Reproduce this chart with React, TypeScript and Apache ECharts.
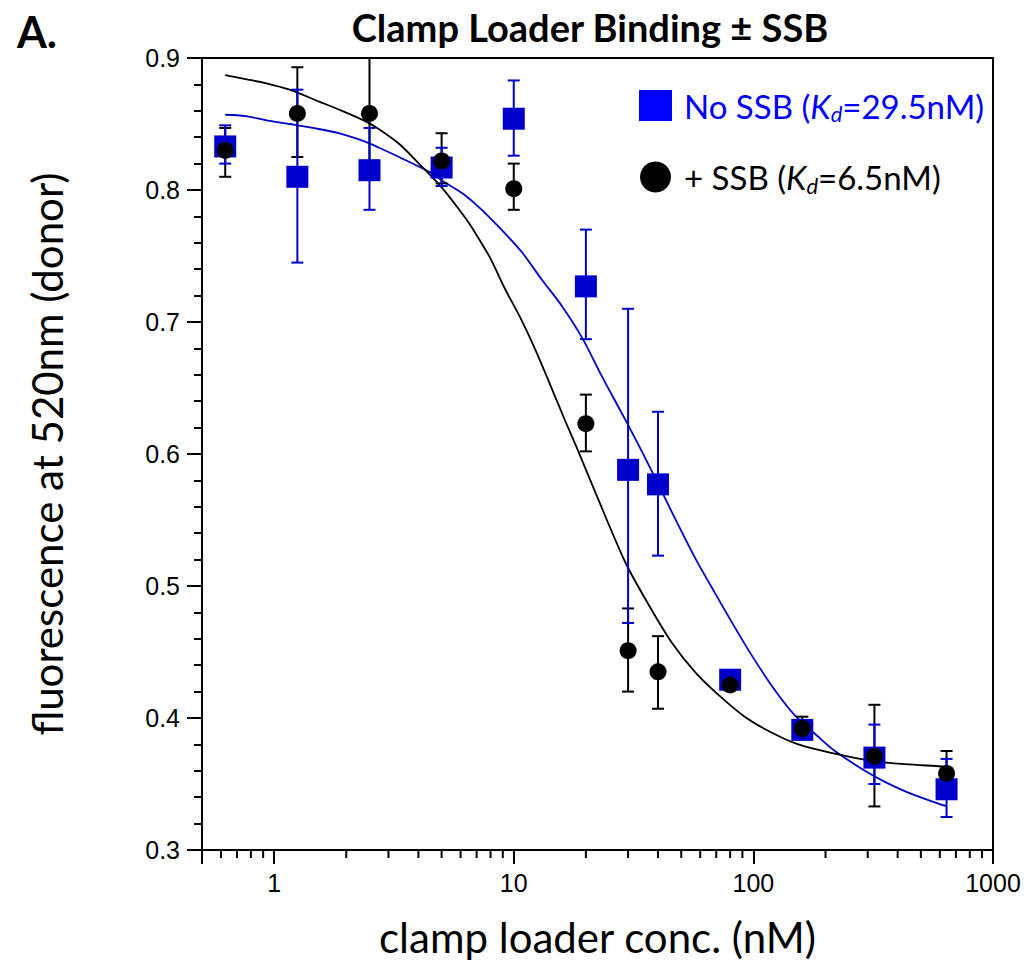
import React, { useEffect, useRef } from 'react';
import * as echarts from 'echarts';

// ---- data ----
const concentrations = [0.625, 1.25, 2.5, 5, 10, 20, 30, 40, 80, 160, 320, 640];

const noSsbValues = [0.833, 0.81, 0.815, 0.817, 0.854, 0.727, 0.588, 0.577, 0.429, 0.391, 0.37, 0.346];
const noSsbLow = [0.82, 0.745, 0.785, 0.803, 0.826, 0.687, 0.472, 0.523, 0.424, 0.386, 0.35, 0.325];
const noSsbHigh = [0.849, 0.876, 0.847, 0.832, 0.883, 0.77, 0.71, 0.632, 0.434, 0.396, 0.395, 0.369];

const ssbValues = [0.83, 0.858, 0.858, 0.822, 0.801, 0.623, 0.451, 0.435, 0.425, 0.392, 0.371, 0.358];
const ssbLow = [0.81, 0.825, 0.812, 0.805, 0.785, 0.602, 0.42, 0.407, 0.421, 0.385, 0.333, 0.341];
const ssbHigh = [0.847, 0.893, 0.905, 0.843, 0.82, 0.645, 0.483, 0.462, 0.429, 0.401, 0.41, 0.375];

const noSsbFitX = [0.625, 0.76, 0.92, 1.16, 1.45, 1.86, 2.41, 2.74, 3.32, 4.57, 5.03, 6.1, 7.15, 8.66, 10.8, 13.1, 15.9, 19.3, 23.3, 29.2, 36.5, 45.7, 58, 67, 81, 98, 123, 149, 186, 219, 292, 354, 443, 617, 640];
const noSsbFitY = [0.857, 0.856, 0.853, 0.85, 0.847, 0.843, 0.8365, 0.832, 0.825, 0.8126, 0.807, 0.7975, 0.787, 0.772, 0.753, 0.732, 0.712, 0.688, 0.659, 0.626, 0.592, 0.556, 0.519, 0.499, 0.473, 0.448, 0.421, 0.402, 0.386, 0.375, 0.36, 0.3516, 0.3435, 0.334, 0.3335];

const ssbFitX = [0.625, 0.76, 0.92, 1.16, 1.54, 1.86, 2.41, 2.74, 3.32, 4.02, 5.0, 5.7, 6.5, 7.15, 8.0, 9.2, 10.6, 12.3, 15.4, 16.4, 18.6, 21.9, 29.2, 36.5, 45.7, 57, 71.5, 92, 119, 154, 219, 311, 428, 610, 640];
const ssbFitY = [0.887, 0.884, 0.881, 0.876, 0.867, 0.861, 0.852, 0.846, 0.835, 0.82, 0.802, 0.789, 0.775, 0.763, 0.748, 0.725, 0.704, 0.679, 0.637, 0.625, 0.602, 0.571, 0.518, 0.486, 0.457, 0.435, 0.4175, 0.401, 0.389, 0.38, 0.373, 0.3675, 0.365, 0.3634, 0.363];

const xMajorLabels = ['1', '10', '100', '1000'];
const xMinorTicks = [0.6, 0.7, 0.8, 0.9, 2, 3, 4, 5, 6, 7, 8, 9, 20, 30, 40, 50, 60, 70, 80, 90, 200, 300, 400, 500, 600, 700, 800, 900];

const BLUE = '#0000CC';
const LEGEND_BLUE = '#0000FF';

function errorRenderer(color: string) {
  return (params: any, api: any) => {
    const x = api.value(0);
    const pLo = api.coord([x, api.value(1)]);
    const pHi = api.coord([x, api.value(2)]);
    const cs = params.coordSys;
    const top = Math.max(pHi[1], cs.y);
    const half = 6;
    const style = { stroke: color, lineWidth: 2 };
    const children: any[] = [
      { type: 'line', shape: { x1: pLo[0], y1: pLo[1], x2: pLo[0], y2: top }, style },
      { type: 'line', shape: { x1: pLo[0] - half, y1: pLo[1], x2: pLo[0] + half, y2: pLo[1] }, style },
    ];
    if (pHi[1] >= cs.y) {
      children.push({ type: 'line', shape: { x1: pHi[0] - half, y1: pHi[1], x2: pHi[0] + half, y2: pHi[1] }, style });
    }
    return { type: 'group', children };
  };
}

export default function App() {
  const ref = useRef<HTMLDivElement>(null);

  useEffect(() => {
    if (!ref.current) return;
    const chart = echarts.init(ref.current, undefined, { renderer: 'svg' });

    const richBase = { fontFamily: 'Lato', fontSize: 33, lineHeight: 38 };
    const subBase = { fontFamily: 'Lato', fontSize: 22, fontStyle: 'italic', lineHeight: 20, verticalAlign: 'bottom' };
    const option: any = {
      animation: false,
      backgroundColor: '#fff',
      title: [
        {
          text: 'Clamp Loader Binding ± SSB',
          left: 585,
          top: 3,
          textAlign: 'center',
          textStyle: { fontFamily: 'Lato', fontWeight: 'bold', fontSize: 38, color: '#000' },
        },
        {
          text: 'A.',
          left: 12,
          top: 5,
          textStyle: { fontFamily: 'Lato', fontWeight: 'bold', fontSize: 43, color: '#000' },
        },
      ],
      legend: {
        orient: 'vertical',
        left: 634,
        top: 84,
        itemWidth: 33,
        itemHeight: 31,
        itemGap: 36,
        selectedMode: false,
        data: [
          { name: 'No SSB', icon: 'rect', itemStyle: { color: LEGEND_BLUE } },
          { name: '+ SSB', icon: 'circle', itemStyle: { color: '#000' } },
        ],
        formatter: (name: string) =>
          name === 'No SSB'
            ? '{b|No SSB (}{bi|K}{bs|d}{b2|=29.5nM)}'
            : '{k|+ SSB (}{ki|K}{ks|d}{k2|=6.5nM)}',
        textStyle: {
          fontFamily: 'Lato',
          fontSize: 33,
          rich: {
            b: { ...richBase, color: LEGEND_BLUE, padding: [0, 0, 0, 7] },
            b2: { ...richBase, color: LEGEND_BLUE },
            bi: { ...richBase, color: LEGEND_BLUE, fontStyle: 'italic' },
            bs: { ...subBase, color: LEGEND_BLUE },
            k: { ...richBase, color: '#000', padding: [0, 0, 0, 7] },
            k2: { ...richBase, color: '#000' },
            ki: { ...richBase, color: '#000', fontStyle: 'italic' },
            ks: { ...subBase, color: '#000' },
          },
        },
      },
      grid: {
        left: 202,
        right: 33,
        top: 58,
        bottom: 111,
        show: true,
        borderColor: '#000',
        borderWidth: 2,
        containLabel: false,
      },
      xAxis: {
        type: 'log',
        logBase: 10,
        min: 0.5,
        max: 1000,
        name: 'clamp loader conc. (nM)',
        nameLocation: 'middle',
        nameGap: 66,
        nameTextStyle: { fontFamily: 'Lato', fontSize: 42, color: '#000' },
        axisLine: { lineStyle: { color: '#000', width: 2 } },
        axisTick: { length: 14, lineStyle: { color: '#000', width: 2 } },
        axisLabel: {
          color: '#000',
          fontFamily: 'Liberation Sans',
          fontSize: 25,
          margin: 20,
          formatter: (v: number) => {
            const s = String(Math.round(v));
            return xMajorLabels.includes(s) && Math.abs(v - Math.round(v)) < 1e-6 ? s : '';
          },
        },
        splitLine: { show: false },
      },
      yAxis: {
        type: 'value',
        min: 0.3,
        max: 0.9,
        interval: 0.1,
        name: 'fluorescence at 520nm (donor)',
        nameLocation: 'middle',
        nameGap: 134,
        nameTextStyle: { fontFamily: 'Lato', fontSize: 42, color: '#000' },
        axisLine: { show: true, lineStyle: { color: '#000', width: 2 } },
        axisTick: { show: true, length: 15, lineStyle: { color: '#000', width: 2 } },
        minorTick: { show: true, splitNumber: 5, length: 8, lineStyle: { color: '#000', width: 2 } },
        axisLabel: {
          color: '#000',
          fontFamily: 'Liberation Sans',
          fontSize: 25,
          margin: 22,
          formatter: (v: number) => v.toFixed(1),
        },
        splitLine: { show: false },
      },
      series: [
        {
          name: 'No SSB fit',
          type: 'line',
          data: noSsbFitX.map((x, i) => [x, noSsbFitY[i]]),
          showSymbol: false,
          symbol: 'none',
          smooth: 0.3,
          lineStyle: { color: BLUE, width: 1.8 },
          silent: true,
          z: 2,
        },
        {
          name: '+ SSB fit',
          type: 'line',
          data: ssbFitX.map((x, i) => [x, ssbFitY[i]]),
          showSymbol: false,
          symbol: 'none',
          smooth: 0.3,
          lineStyle: { color: '#000', width: 1.8 },
          silent: true,
          z: 2,
        },
        {
          name: '+ SSB error',
          type: 'custom',
          renderItem: errorRenderer('#000'),
          data: concentrations.map((x, i) => [x, ssbLow[i], ssbHigh[i]]),
          encode: { x: 0, y: [1, 2] },
          silent: true,
          z: 3,
        },
        {
          name: 'No SSB error',
          type: 'custom',
          renderItem: errorRenderer(BLUE),
          data: concentrations.map((x, i) => [x, noSsbLow[i], noSsbHigh[i]]),
          encode: { x: 0, y: [1, 2] },
          silent: true,
          z: 4,
        },
        {
          name: 'No SSB',
          type: 'scatter',
          symbol: 'rect',
          symbolSize: 22,
          itemStyle: { color: BLUE, opacity: 1 },
          data: concentrations.map((x, i) => [x, noSsbValues[i]]),
          z: 5,
        },
        {
          name: '+ SSB',
          type: 'scatter',
          symbol: 'circle',
          symbolSize: 17,
          itemStyle: { color: '#000', opacity: 1 },
          data: concentrations.map((x, i) => [x, ssbValues[i]]),
          z: 6,
        },
        {
          name: 'x minor ticks',
          type: 'custom',
          silent: true,
          clip: false,
          z: 10,
          data: xMinorTicks.map((v) => [v, 0.3]),
          encode: { x: 0, y: 1 },
          renderItem: (params: any, api: any) => {
            const p = api.coord([api.value(0), api.value(1)]);
            return {
              type: 'line',
              shape: { x1: p[0], y1: p[1], x2: p[0], y2: p[1] + 8 },
              style: { stroke: '#000', lineWidth: 2 },
            };
          },
        },
      ],
    };

    chart.setOption(option);
    return () => chart.dispose();
  }, []);

  return (
    <div
      ref={ref}
      style={{ position: 'absolute', left: 0, top: 0, width: 1026, height: 963, background: '#fff' }}
    />
  );
}
